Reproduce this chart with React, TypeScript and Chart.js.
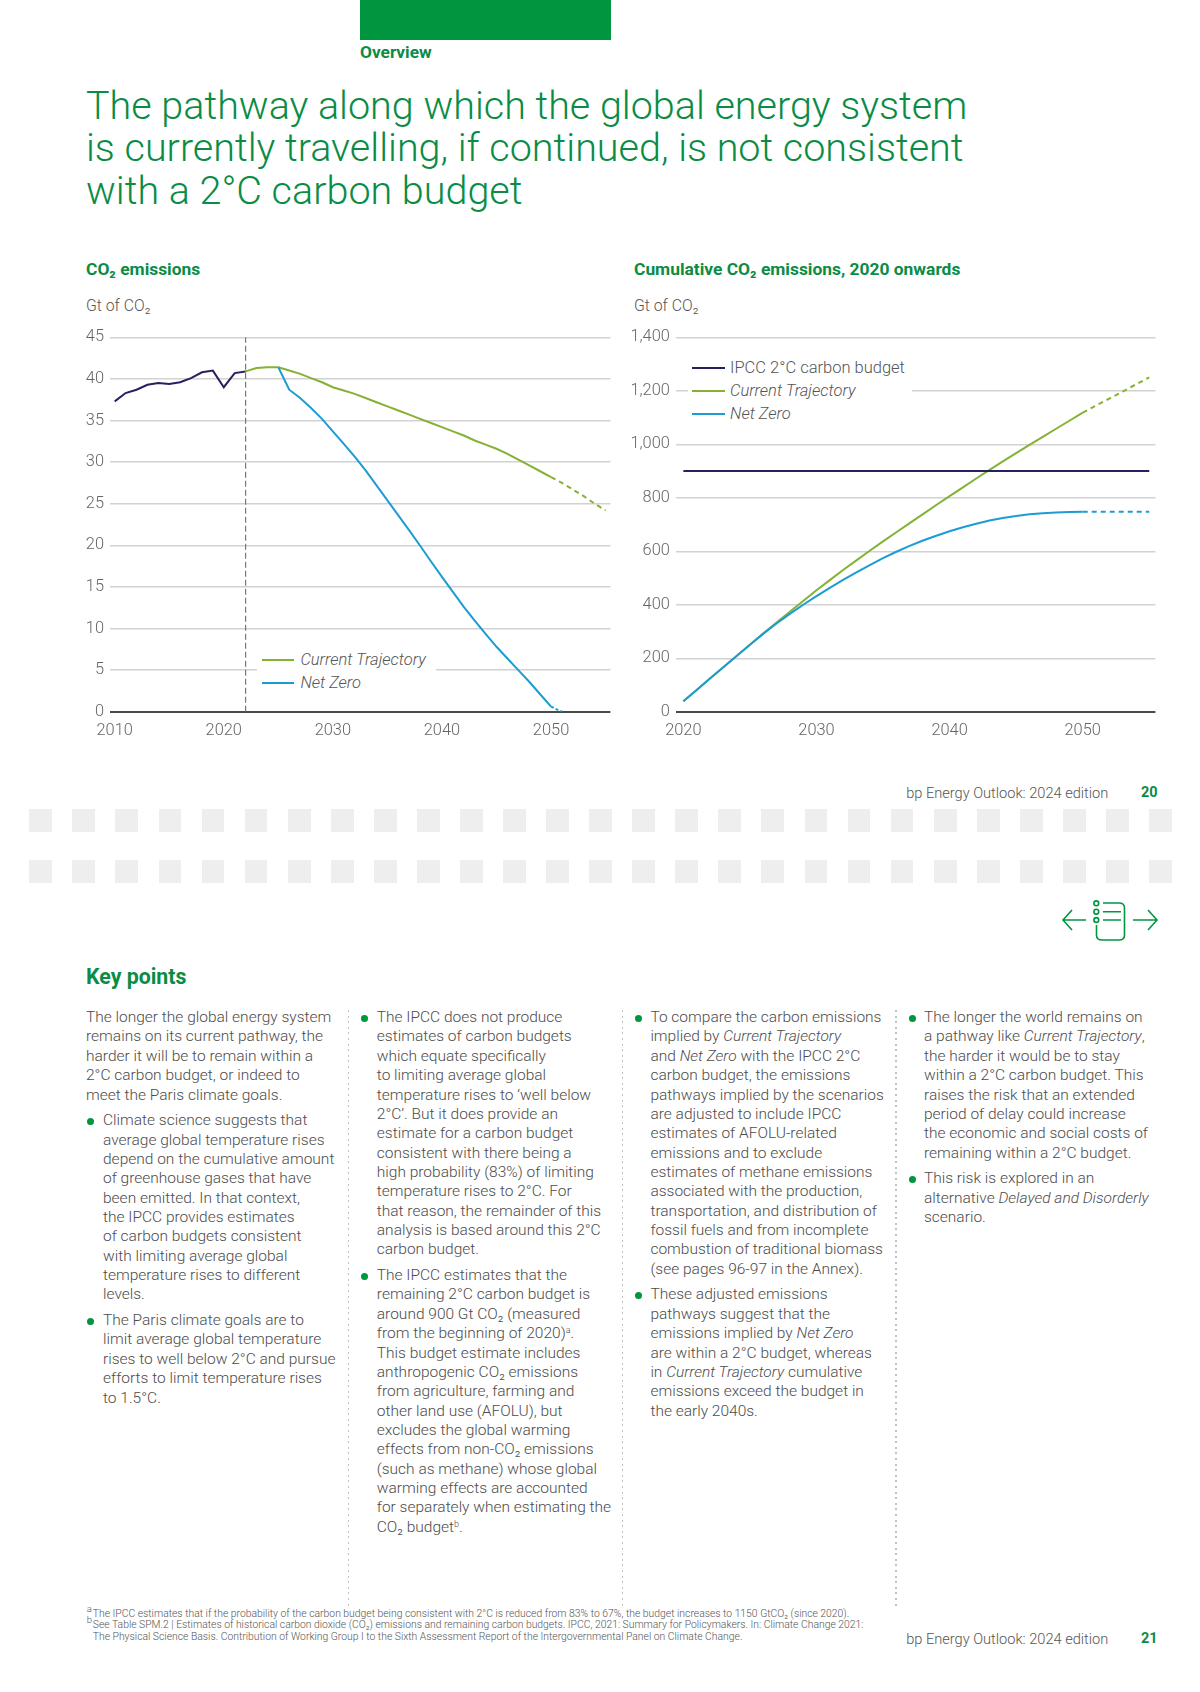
import React, { useEffect, useRef } from "react";
import { Chart, registerables } from "chart.js";

Chart.register(...registerables);

// ---- data (left chart: CO2 emissions, Gt of CO2) ----
const historyYears = [2010, 2011, 2012, 2013, 2014, 2015, 2016, 2017, 2018, 2019, 2020, 2021, 2022];
const historyValues = [37.3, 38.3, 38.7, 39.3, 39.5, 39.4, 39.6, 40.1, 40.8, 41.0, 39.0, 40.7, 40.9];
const ctYears = [2022, 2023, 2024, 2025, 2026, 2027, 2028, 2029, 2030, 2031, 2032, 2033, 2034, 2035, 2036, 2037, 2038, 2039, 2040, 2041, 2042, 2043, 2044, 2045, 2046, 2047, 2048, 2049, 2050, 2051, 2052, 2053, 2054, 2055];
const ctEmissions = [40.9, 41.3, 41.4, 41.4, 41.0, 40.6, 40.1, 39.6, 39.0, 38.6, 38.2, 37.7, 37.2, 36.7, 36.2, 35.7, 35.2, 34.7, 34.2, 33.7, 33.2, 32.6, 32.1, 31.6, 31.0, 30.3, 29.6, 28.9, 28.2, 27.5, 26.7, 25.9, 25.0, 24.2];
const nzYears = [2025, 2026, 2027, 2028, 2029, 2030, 2031, 2032, 2033, 2034, 2035, 2036, 2037, 2038, 2039, 2040, 2041, 2042, 2043, 2044, 2045, 2046, 2047, 2048, 2049, 2050, 2051];
const nzEmissions = [41.4, 38.7, 37.7, 36.5, 35.2, 33.7, 32.2, 30.65, 29.0, 27.2, 25.4, 23.6, 21.8, 19.95, 18.05, 16.2, 14.4, 12.6, 10.95, 9.35, 7.8, 6.4, 5.0, 3.6, 2.1, 0.6, 0];
const dividerYear = [2022, 2022];
const dividerRange = [0, 45];
const leftXTicks = [2010, 2020, 2030, 2040, 2050];
const leftYTicks = [0, 5, 10, 15, 20, 25, 30, 35, 40, 45];

// ---- data (right chart: cumulative CO2 emissions, 2020 onwards) ----
const cumYears = [2020, 2021, 2022, 2023, 2024, 2025, 2026, 2027, 2028, 2029, 2030, 2031, 2032, 2033, 2034, 2035, 2036, 2037, 2038, 2039, 2040, 2041, 2042, 2043, 2044, 2045, 2046, 2047, 2048, 2049, 2050, 2051, 2052, 2053, 2054, 2055];
const cumCurrent = [39, 81, 124, 166, 208, 250, 292, 333, 374, 414, 454, 492, 530, 566, 602, 637, 671, 705, 739, 773, 806, 839, 872, 904, 936, 967, 998, 1028, 1058, 1088, 1118, 1145, 1171, 1197, 1224, 1250];
const cumNetZero = [39, 81, 124, 166, 208, 250, 292, 330, 366, 400, 432, 463, 493, 521, 548, 574, 598, 620, 640, 658, 675, 690, 703, 715, 724, 732, 738, 742, 745, 747, 748, 748, 748, 748, 748, 748];
const budgetYears = [2020, 2055];
const budgetValues = [900, 900];
const rightXTicks = [2020, 2030, 2040, 2050];
const rightYTicks = [0, 200, 400, 600, 800, 1000, 1200, 1400];

const DARK = "#25215f";
const LIME = "#85b234";
const BLUE = "#1d9cd3";
const GREEN = "#009640";
const TEXT = "#4c4c4c";

const zip = (xs: number[], ys: number[]) => xs.map((x, i) => ({ x, y: ys[i] }));

const dashFrom = (year: number, dash: number[]) => ({
  borderDash: (ctx: any) => (ctx.p0.parsed.x >= year ? dash : undefined),
});

function makeConfig(o: any): any {
  const tickFont = { family: "Roboto", size: 16.4, weight: "300" };
  return {
    type: "line",
    data: { datasets: o.datasets },
    options: {
      responsive: false,
      animation: false,
      layout: { padding: { left: 0, right: o.padRight, top: o.padTop, bottom: 0 } },
      elements: { point: { radius: 0 }, line: { tension: 0 } },
      plugins: { legend: { display: false }, tooltip: { enabled: false } },
      scales: {
        x: {
          type: "linear",
          min: o.xMin,
          max: o.xMax,
          afterBuildTicks: (s: any) => { s.ticks = o.xTicks.map((value: number) => ({ value })); },
          afterFit: (s: any) => { s.height = o.axisHeight; },
          grid: { display: false },
          border: { display: false },
          ticks: { font: tickFont, color: "#666", padding: 1, maxRotation: 0, callback: (v: any) => String(v) },
        },
        y: {
          type: "linear",
          min: 0,
          max: o.yMax,
          afterBuildTicks: (s: any) => { s.ticks = o.yTicks.map((value: number) => ({ value })); },
          afterFit: (s: any) => { s.width = o.axisWidth; },
          grid: {
            drawTicks: false,
            color: (c: any) => (c.tick.value === 0 ? "#4a4a4a" : "#d2d2d2"),
            lineWidth: (c: any) => (c.tick.value === 0 ? 2 : 1.4),
          },
          border: { display: false },
          ticks: { font: tickFont, color: "#666", padding: 6, callback: (v: any) => Number(v).toLocaleString("en-US") },
        },
      },
    },
  };
}

const leftConfig = () =>
  makeConfig({
    padRight: 29.6, padTop: 37.3, axisHeight: 48.3, axisWidth: 110,
    xMin: 2009.57, xMax: 2055.44, yMax: 45, xTicks: leftXTicks, yTicks: leftYTicks,
    datasets: [
      { label: "2022 divider", data: zip(dividerYear, dividerRange), borderColor: "#777", borderWidth: 1.2, borderDash: [6, 3] },
      { label: "History", data: zip(historyYears, historyValues), borderColor: DARK, borderWidth: 2 },
      { label: "Net Zero", data: zip(nzYears, nzEmissions), borderColor: BLUE, borderWidth: 2, segment: dashFrom(2050, [3, 2]) },
      { label: "Current Trajectory", data: zip(ctYears, ctEmissions), borderColor: LIME, borderWidth: 2, segment: dashFrom(2050, [5, 4]) },
    ],
  });

const rightConfig = () =>
  makeConfig({
    padRight: 44.6, padTop: 37.3, axisHeight: 48.3, axisWidth: 55.9,
    xMin: 2019.44, xMax: 2055.46, yMax: 1400, xTicks: rightXTicks, yTicks: rightYTicks,
    datasets: [
      { label: "IPCC 2°C carbon budget", data: zip(budgetYears, budgetValues), borderColor: DARK, borderWidth: 2 },
      { label: "Net Zero", data: zip(cumYears, cumNetZero), borderColor: BLUE, borderWidth: 2, segment: dashFrom(2050, [5, 4]) },
      { label: "Current Trajectory", data: zip(cumYears, cumCurrent), borderColor: LIME, borderWidth: 2, segment: dashFrom(2050, [5, 4]) },
    ],
  });

// ---- page text ----
const titleLines = [
  "The pathway along which the global energy system",
  "is currently travelling, if continued, is not consistent",
  "with a 2°C carbon budget",
];

type Para = { bullet: boolean; lines: string[] };
const column1: Para[] = [
  { bullet: false, lines: ["The longer the global energy system", "remains on its current pathway, the", "harder it will be to remain within a", "2°C carbon budget, or indeed to", "meet the Paris climate goals."] },
  { bullet: true, lines: ["Climate science suggests that", "average global temperature rises", "depend on the cumulative amount", "of greenhouse gases that have", "been emitted. In that context,", "the IPCC provides estimates", "of carbon budgets consistent", "with limiting average global", "temperature rises to different", "levels."] },
  { bullet: true, lines: ["The Paris climate goals are to", "limit average global temperature", "rises to well below 2°C and pursue", "efforts to limit temperature rises", "to 1.5°C."] },
];
const column2: Para[] = [
  { bullet: true, lines: ["The IPCC does not produce", "estimates of carbon budgets", "which equate specifically", "to limiting average global", "temperature rises to ‘well below", "2°C’. But it does provide an", "estimate for a carbon budget", "consistent with there being a", "high probability (83%) of limiting", "temperature rises to 2°C. For", "that reason, the remainder of this", "analysis is based around this 2°C", "carbon budget."] },
  { bullet: true, lines: ["The IPCC estimates that the", "remaining 2°C carbon budget is", "around 900 Gt CO₂ (measured", "from the beginning of 2020)<sup>a</sup>.", "This budget estimate includes", "anthropogenic CO₂ emissions", "from agriculture, farming and", "other land use (AFOLU), but", "excludes the global warming", "effects from non-CO₂ emissions", "(such as methane) whose global", "warming effects are accounted", "for separately when estimating the", "CO₂ budget<sup>b</sup>."] },
];
const column3: Para[] = [
  { bullet: true, lines: ["To compare the carbon emissions", "implied by <i>Current Trajectory</i>", "and <i>Net Zero</i> with the IPCC 2°C", "carbon budget, the emissions", "pathways implied by the scenarios", "are adjusted to include IPCC", "estimates of AFOLU-related", "emissions and to exclude", "estimates of methane emissions", "associated with the production,", "transportation, and distribution of", "fossil fuels and from incomplete", "combustion of traditional biomass", "(see pages 96-97 in the Annex)."] },
  { bullet: true, lines: ["These adjusted emissions", "pathways suggest that the", "emissions implied by <i>Net Zero</i>", "are within a 2°C budget, whereas", "in <i>Current Trajectory</i> cumulative", "emissions exceed the budget in", "the early 2040s."] },
];
const column4: Para[] = [
  { bullet: true, lines: ["The longer the world remains on", "a pathway like <i>Current Trajectory</i>,", "the harder it would be to stay", "within a 2°C carbon budget. This", "raises the risk that an extended", "period of delay could increase", "the economic and social costs of", "remaining within a 2°C budget."] },
  { bullet: true, lines: ["This risk is explored in an", "alternative <i>Delayed and Disorderly</i>", "scenario."] },
];
const columnDefs = [
  { left: 86, indent: 17, paras: column1 },
  { left: 360, indent: 16.8, paras: column2 },
  { left: 634, indent: 16.4, paras: column3 },
  { left: 907.6, indent: 16.4, paras: column4 },
];
const dividerXs = [347.5, 621.5, 895];
const footnotes = [
  "The IPCC estimates that if the probability of the carbon budget being consistent with 2°C is reduced from 83% to 67%, the budget increases to 1150 GtCO₂ (since 2020).",
  "See Table SPM.2 | Estimates of historical carbon dioxide (CO₂) emissions and remaining carbon budgets. IPCC, 2021: Summary for Policymakers. In: Climate Change 2021:",
  "The Physical Science Basis. Contribution of Working Group I to the Sixth Assessment Report of the Intergovernmental Panel on Climate Change.",
];
const squareRows = [809, 860];
const squareCount = 27;

const abs = (left: number, top: number, extra: React.CSSProperties = {}): React.CSSProperties => ({
  position: "absolute", left, top, whiteSpace: "nowrap", ...extra,
});

function LegendRow({ x, y, color, label, italic, lineW, gap }: any) {
  return (
    <>
      <div style={abs(x, y - 1, { width: lineW, height: 2, background: color })} />
      <div style={abs(x + lineW + gap, y - 11, { lineHeight: "22px", fontSize: 16.5, fontWeight: 300, fontStyle: italic ? "italic" : "normal", color: "#555" })}>{label}</div>
    </>
  );
}

function Column({ left, indent, paras }: any) {
  return (
    <div style={abs(left, 1008.1, { fontSize: 15.5, fontWeight: 300, lineHeight: "19.37px", color: TEXT })}>
      {paras.map((p: Para, i: number) => (
        <div key={i} style={{ position: "relative", paddingLeft: p.bullet ? indent : 0, marginBottom: 6.3 }}>
          {p.bullet && (
            <div style={{ position: "absolute", left: 1.2, top: 7, width: 7, height: 7, borderRadius: "50%", background: GREEN }} />
          )}
          {p.lines.map((l, j) => (
            <div key={j} style={{ height: 19.37 }} dangerouslySetInnerHTML={{ __html: l }} />
          ))}
        </div>
      ))}
    </div>
  );
}

export default function App() {
  const leftRef = useRef<HTMLCanvasElement>(null);
  const rightRef = useRef<HTMLCanvasElement>(null);
  useEffect(() => {
    document.body.style.margin = "0";
    const a = new Chart(leftRef.current as any, leftConfig());
    const b = new Chart(rightRef.current as any, rightConfig());
    return () => { a.destroy(); b.destroy(); };
  }, []);

  return (
    <div style={{ position: "absolute", left: 0, top: 0, width: 1200, height: 1692, overflow: "hidden", background: "#fff", fontFamily: "Roboto, sans-serif" }}>
      <style>{`sup{font-size:9px;line-height:0;vertical-align:5px}`}</style>
      <div style={abs(360, 0, { width: 250.5, height: 40, background: GREEN })} />
      <div style={abs(360, 42, { fontSize: 17.3, fontWeight: 700, color: "#0a8c45", lineHeight: "20px" })}>Overview</div>
      <div style={abs(86, 85, { fontSize: 39.5, fontWeight: 300, color: "#0a8c45", lineHeight: "42.4px" })}>
        {titleLines.map((t) => <div key={t}>{t}</div>)}
      </div>

      <div style={abs(86, 258.5, { fontSize: 17.4, fontWeight: 700, color: "#0a8c45", lineHeight: "20px" })}>CO₂ emissions</div>
      <div style={abs(86, 296, { fontSize: 15.8, fontWeight: 300, color: "#555", lineHeight: "20px" })}>Gt of CO₂</div>
      <div style={abs(634, 258.5, { fontSize: 17.4, fontWeight: 700, color: "#0a8c45", lineHeight: "20px" })}>Cumulative CO₂ emissions, 2020 onwards</div>
      <div style={abs(634, 296, { fontSize: 15.8, fontWeight: 300, color: "#555", lineHeight: "20px" })}>Gt of CO₂</div>

      <canvas ref={leftRef} width={640} height={460} style={{ position: "absolute", left: 0, top: 300, width: 640, height: 460 }} />
      <canvas ref={rightRef} width={580} height={460} style={{ position: "absolute", left: 620, top: 300, width: 580, height: 460 }} />

      <div style={abs(257, 648, { width: 179, height: 46, background: "#fff" })} />
      <LegendRow x={262.4} y={660} color={LIME} label="Current Trajectory" italic lineW={32} gap={6} />
      <LegendRow x={262.4} y={682.5} color={BLUE} label="Net Zero" italic lineW={32} gap={6} />

      <div style={abs(688, 356, { width: 224, height: 70, background: "#fff" })} />
      <LegendRow x={692.4} y={368} color={DARK} label="IPCC 2°C carbon budget" lineW={32.6} gap={5} />
      <LegendRow x={692.4} y={390.7} color={LIME} label="Current Trajectory" italic lineW={32.6} gap={5} />
      <LegendRow x={692.4} y={413.7} color={BLUE} label="Net Zero" italic lineW={32.6} gap={5} />

      <div style={abs(906.2, 783, { fontSize: 14.6, fontWeight: 300, color: "#555", lineHeight: "20px" })}>bp Energy Outlook: 2024 edition</div>
      <div style={abs(1141, 783, { fontSize: 14.5, fontWeight: 700, color: "#0a8c45", lineHeight: "20px" })}>20</div>

      {squareRows.map((y) =>
        Array.from({ length: squareCount }).map((_, i) => (
          <div key={`${y}-${i}`} style={abs(29.3 + i * 43.07, y, { width: 22.8, height: 23, background: "#eeeeee" })} />
        ))
      )}

      <svg style={{ position: "absolute", left: 1050, top: 890 }} width={120} height={60} viewBox="1050 890 120 60" fill="none" stroke={GREEN} strokeWidth={1.6}>
        <path d="M1086 920H1063M1072 910L1063 920L1072 930" />
        <path d="M1133 920H1157M1148 910L1157 920L1148 930" />
        <circle cx={1096.3} cy={903.3} r={2.4} />
        <circle cx={1096.3} cy={911.7} r={2.4} />
        <circle cx={1096.3} cy={920} r={2.4} />
        <path d="M1103 903H1119Q1124.5 903 1124.5 908V935Q1124.5 940 1119 940H1102Q1096.5 940 1096.5 935V925" />
        <path d="M1103 911.7H1121M1103 920H1121" />
      </svg>

      <div style={abs(86, 964, { fontSize: 21.3, fontWeight: 700, color: "#0a8c45", lineHeight: "26px" })}>Key points</div>
      {columnDefs.map((c) => <Column key={c.left} {...c} />)}
      {dividerXs.map((x) => (
        <div key={x} style={abs(x, 1010, { width: 1.6, height: 597, backgroundImage: "repeating-linear-gradient(#c2c2c2 0 2px, transparent 2px 5.6px)" })} />
      ))}

      <div style={abs(92.8, 1608, { fontSize: 10.36, fontWeight: 300, color: "#555", lineHeight: "11.3px" })}>
        <span style={abs(-6, -5, { fontSize: 9.5 })}>a</span>
        <span style={abs(-6, 6, { fontSize: 9.5 })}>b</span>
        {footnotes.map((f) => <div key={f}>{f}</div>)}
      </div>
      <div style={abs(906.2, 1629, { fontSize: 14.6, fontWeight: 300, color: "#555", lineHeight: "20px" })}>bp Energy Outlook: 2024 edition</div>
      <div style={abs(1141, 1629, { fontSize: 14.5, fontWeight: 700, color: "#0a8c45", lineHeight: "20px" })}>21</div>
    </div>
  );
}
